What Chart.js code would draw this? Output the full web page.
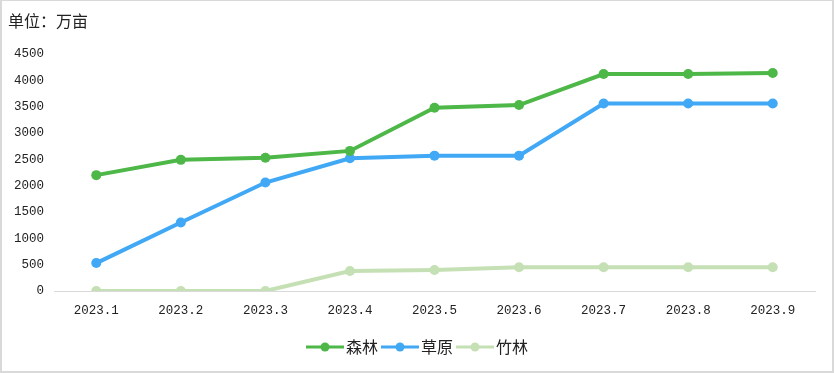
<!DOCTYPE html>
<html>
<head>
<meta charset="utf-8">
<script src="https://cdn.jsdelivr.net/npm/chart.js@4/dist/chart.umd.min.js"></script>
<style>
html,body{margin:0;padding:0;background:#fff;}
#wrap{position:relative;width:834px;height:373px;overflow:hidden;}
#frame{position:absolute;left:0;top:0;width:834px;height:373px;box-sizing:border-box;border:2px solid #d9d9d9;border-top-width:1px;pointer-events:none;}
canvas{position:absolute;left:0;top:0;}
</style>
</head>
<body>
<div id="wrap">
<canvas id="c" width="834" height="373"></canvas>
<div id="frame"></div>
</div>
<script>
const categories = ['2023.1','2023.2','2023.3','2023.4','2023.5','2023.6','2023.7','2023.8','2023.9'];
const forest = [2200, 2490, 2530, 2660, 3480, 3530, 4120, 4120, 4140];
const grassland = [530, 1300, 2060, 2520, 2570, 2570, 3560, 3560, 3560];
const bamboo = [0, 0, 0, 380, 400, 450, 450, 450, 450];
const seriesNames = ['森林', '草原', '竹林'];
const unitLabel = '单位：万亩';
const yTicks = [0, 500, 1000, 1500, 2000, 2500, 3000, 3500, 4000, 4500];

const colors = ['#4DB748', '#41A8F5', '#C5E0B4'];
const seriesData = [forest, grassland, bamboo];

const datasets = seriesData.map((d, i) => ({
  label: seriesNames[i],
  data: d,
  borderColor: colors[i],
  backgroundColor: colors[i],
  pointBackgroundColor: colors[i],
  pointBorderColor: colors[i],
  borderWidth: 4,
  pointRadius: 5,
  pointBorderWidth: 0,
  pointHoverRadius: 5,
  tension: 0,
  fill: false
}));

const cjk = '"Noto Sans CJK SC","Noto Sans",sans-serif';
const tickFont = {family: '"Liberation Mono","DejaVu Sans Mono",monospace', size: 12.5};

const extras = {
  id: 'extras',
  afterDraw(chart) {
    const ctx = chart.ctx;
    ctx.save();
    ctx.fillStyle = '#222';
    ctx.font = '16px ' + cjk;
    ctx.textBaseline = 'middle';
    ctx.textAlign = 'left';
    ctx.fillText(unitLabel, 8, 21);

    // legend
    const lineLen = 38, gapText = 2, gapItem = 3;
    ctx.font = '16px ' + cjk;
    const widths = seriesNames.map(n => ctx.measureText(n).width);
    let total = 0;
    widths.forEach((w, i) => { total += lineLen + gapText + w + (i < widths.length - 1 ? gapItem : 0); });
    let x = 417 - total / 2;
    const y = 347;
    seriesNames.forEach((n, i) => {
      ctx.strokeStyle = colors[i];
      ctx.lineWidth = 3;
      ctx.beginPath();
      ctx.moveTo(x, y);
      ctx.lineTo(x + lineLen, y);
      ctx.stroke();
      ctx.fillStyle = colors[i];
      ctx.beginPath();
      ctx.arc(x + lineLen / 2, y, 4.5, 0, Math.PI * 2);
      ctx.fill();
      ctx.fillStyle = '#222';
      ctx.fillText(n, x + lineLen + gapText, y);
      x += lineLen + gapText + widths[i] + gapItem;
    });
    ctx.restore();
  }
};

new Chart(document.getElementById('c'), {
  type: 'line',
  data: {labels: categories, datasets: datasets},
  plugins: [extras],
  options: {
    responsive: false,
    devicePixelRatio: 1,
    animation: false,
    layout: {padding: {top: 54, left: 0, right: 19, bottom: 0}},
    plugins: {legend: {display: false}, tooltip: {enabled: false}, title: {display: false}},
    scales: {
      x: {
        offset: true,
        grid: {display: false, drawTicks: false},
        border: {display: true, color: '#d9d9d9', width: 1},
        ticks: {font: tickFont, color: '#222', padding: 12, maxRotation: 0, autoSkip: false},
        afterFit(s) { s.height = 373 - 291; }
      },
      y: {
        min: 0,
        max: 4500,
        afterBuildTicks(s) { s.ticks = yTicks.map(v => ({value: v})); },
        grid: {display: false, drawTicks: false},
        border: {display: false},
        ticks: {font: tickFont, color: '#222', padding: 10, callback: v => String(v)},
        afterFit(s) { s.width = 54; }
      }
    }
  }
});
</script>
</body>
</html>
